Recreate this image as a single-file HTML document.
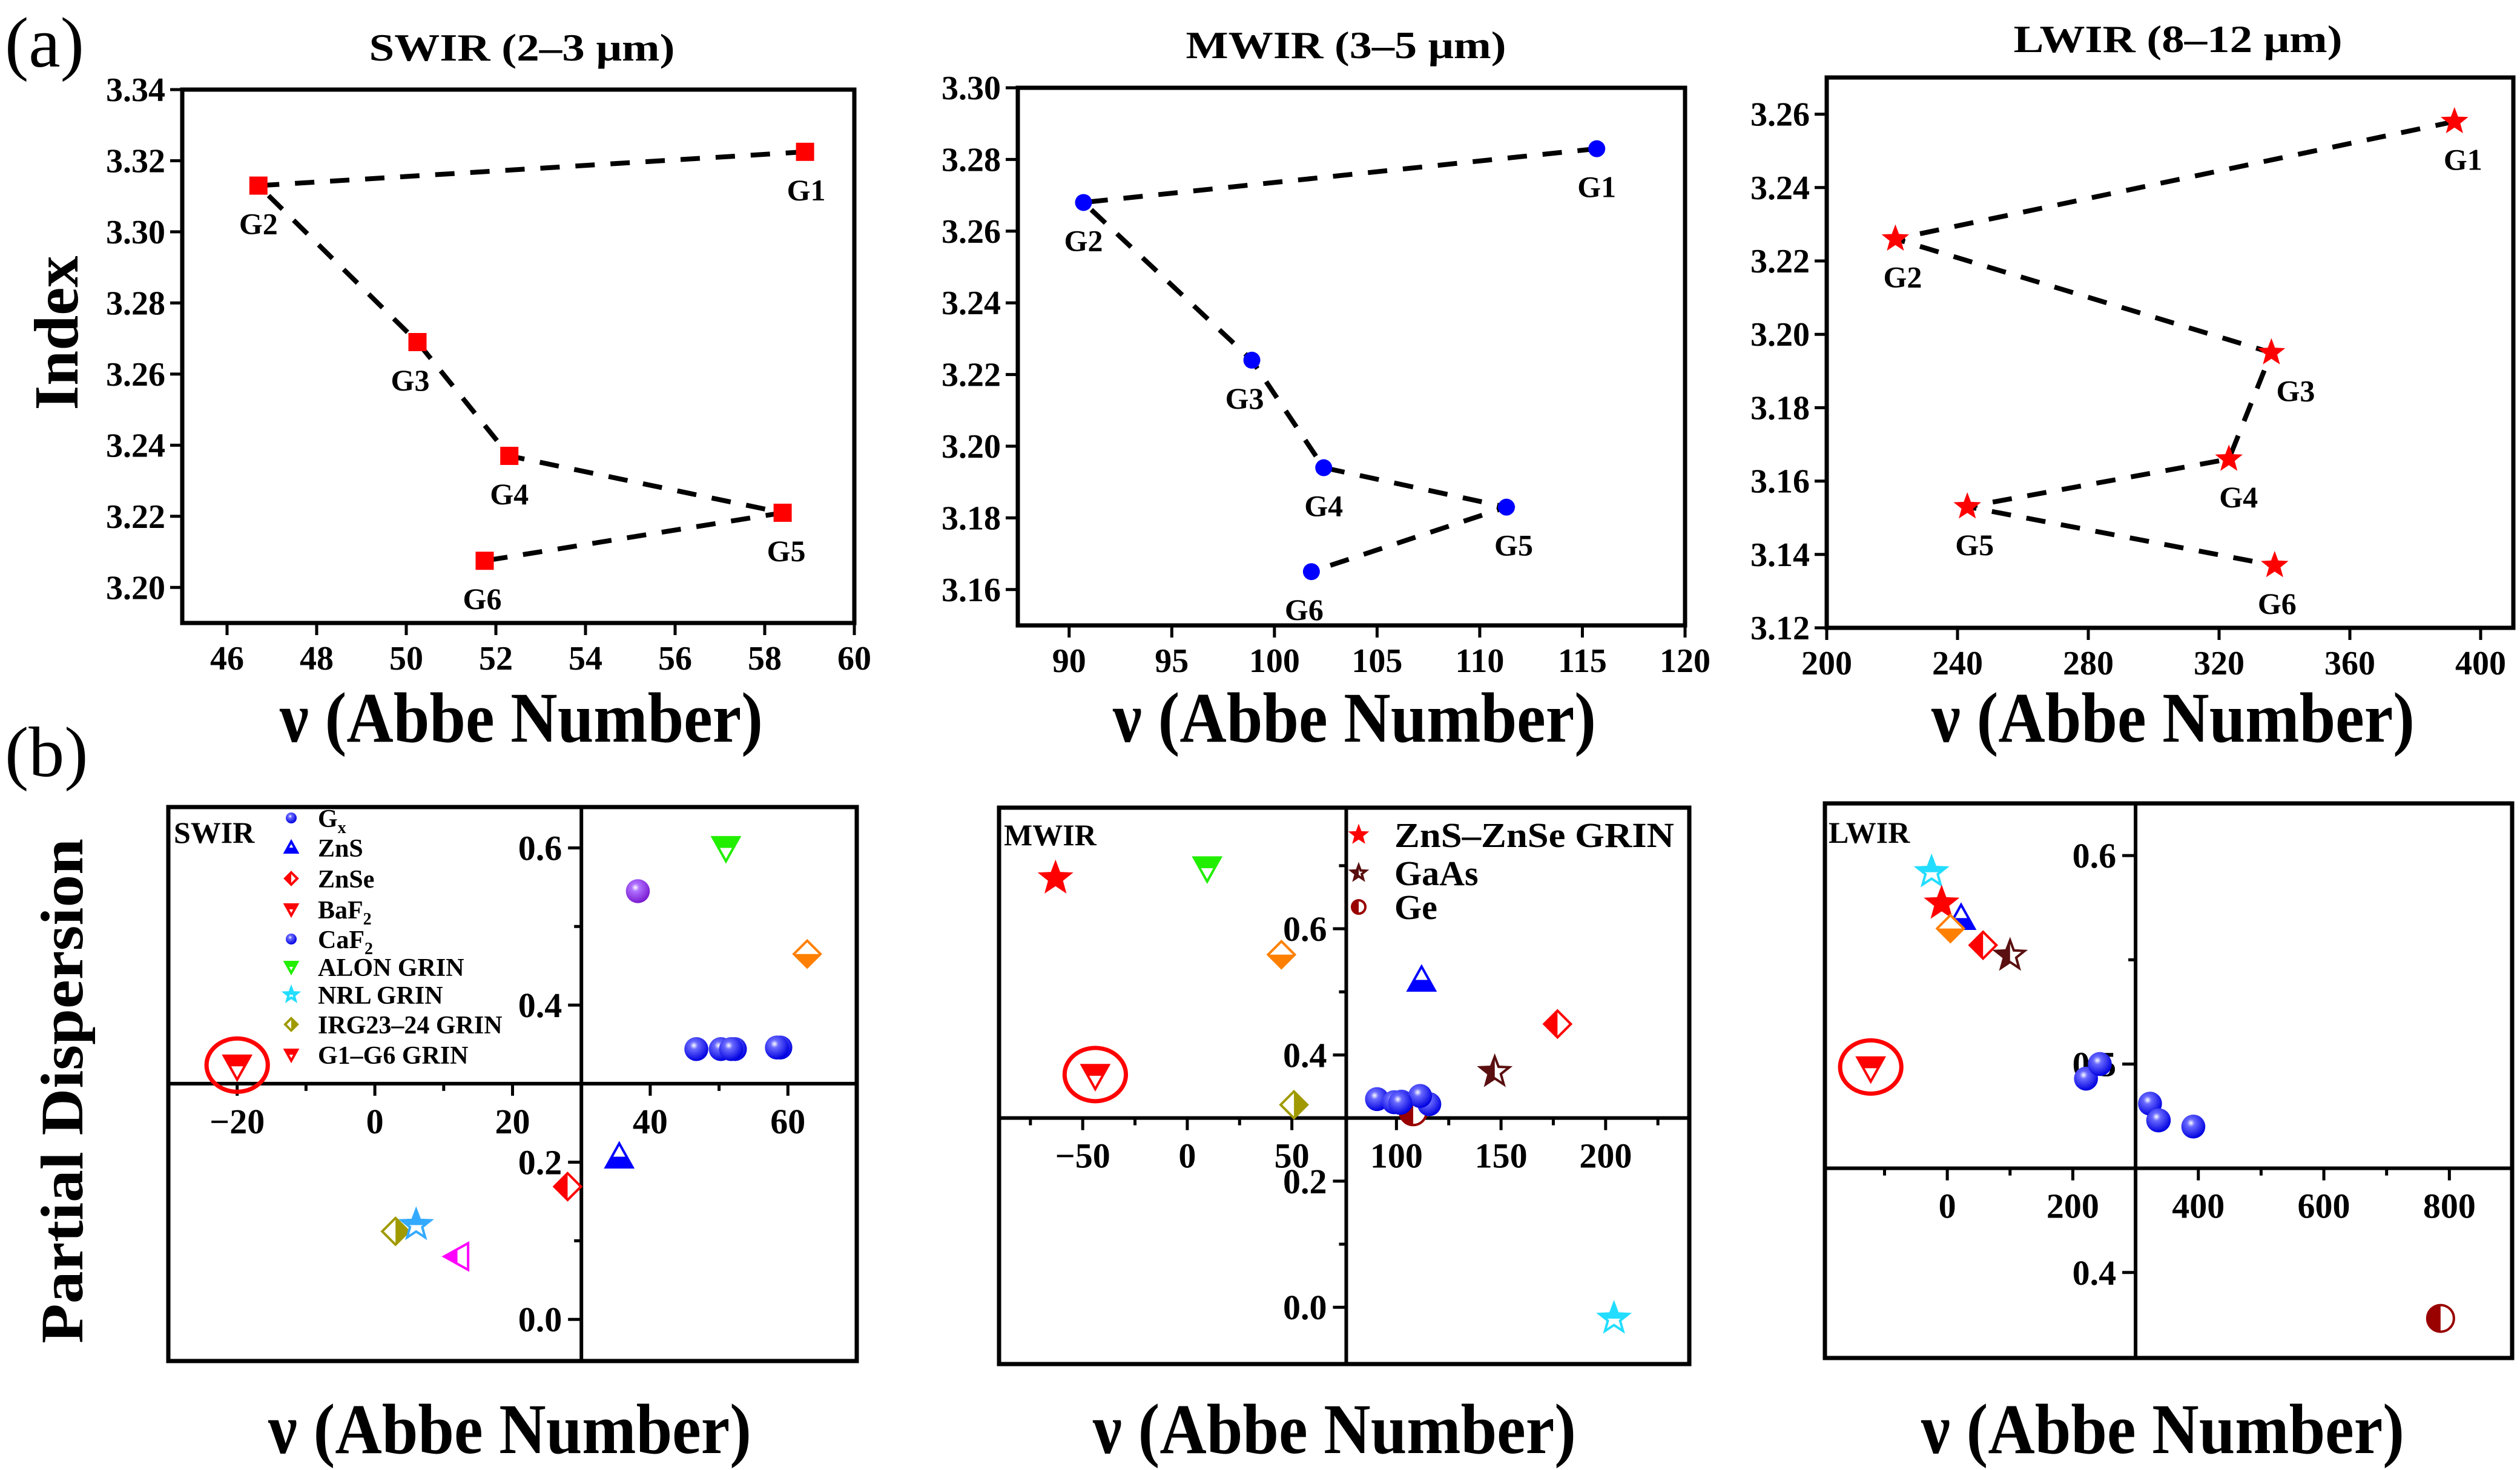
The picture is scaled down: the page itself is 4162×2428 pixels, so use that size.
<!DOCTYPE html>
<html><head><meta charset="utf-8"><style>
html,body{margin:0;padding:0;background:#fff;}
svg{display:block;font-family:"Liberation Serif","Times New Roman",serif;font-weight:bold;}
svg text, svg tspan{font-family:"Liberation Serif","Times New Roman",serif;}
</style></head><body>
<svg id="chart" width="4162" height="2428" viewBox="0 0 4162 2428" xmlns="http://www.w3.org/2000/svg">
<defs>
<radialGradient id="gBlue" cx="0.4" cy="0.35" r="0.65"><stop offset="0" stop-color="#ffffff"/><stop offset="0.25" stop-color="#6a6aff"/><stop offset="1" stop-color="#0000e0"/></radialGradient>
<radialGradient id="gPurple" cx="0.4" cy="0.35" r="0.65"><stop offset="0" stop-color="#ffffff"/><stop offset="0.25" stop-color="#b070ff"/><stop offset="1" stop-color="#7a1ad0"/></radialGradient>
</defs>
<text x="8" y="110" font-size="118" font-weight="normal">(a)</text>
<text x="8" y="1282" font-size="118" font-weight="normal">(b)</text>
<text transform="translate(128,550) rotate(-90)" text-anchor="middle" font-size="104" textLength="255" lengthAdjust="spacingAndGlyphs">Index</text>
<text transform="translate(136,1802) rotate(-90)" text-anchor="middle" font-size="100" textLength="834" lengthAdjust="spacingAndGlyphs">Partial Dispersion</text>
<text x="862" y="100" text-anchor="middle" font-size="64" textLength="505" lengthAdjust="spacingAndGlyphs">SWIR (2–3 μm)</text>
<text x="2223" y="96" text-anchor="middle" font-size="64" textLength="529" lengthAdjust="spacingAndGlyphs">MWIR (3–5 μm)</text>
<text x="3597" y="86" text-anchor="middle" font-size="64" textLength="543" lengthAdjust="spacingAndGlyphs">LWIR (8–12 μm)</text>
</svg>
<script>
// ---------- data ----------
const glassLabels = ['G1','G2','G3','G4','G5','G6'];
const swirAbbe = [58.9, 46.7, 50.25, 52.3, 58.4, 51.75];
const swirIndex = [3.3225, 3.313, 3.269, 3.237, 3.221, 3.2075];
const mwirAbbe = [115.7, 90.7, 98.9, 102.4, 111.3, 101.8];
const mwirIndex = [3.283, 3.268, 3.224, 3.194, 3.183, 3.165];
const lwirAbbe = [392, 221, 336, 323, 243, 337];
const lwirIndex = [3.258, 3.226, 3.195, 3.166, 3.153, 3.137];

const swirXTicks = [46,48,50,52,54,56,58,60];
const swirYTicks = [3.20,3.22,3.24,3.26,3.28,3.30,3.32,3.34];
const mwirXTicks = [90,95,100,105,110,115,120];
const mwirYTicks = [3.16,3.18,3.20,3.22,3.24,3.26,3.28,3.30];
const lwirXTicks = [200,240,280,320,360,400];
const lwirYTicks = [3.12,3.14,3.16,3.18,3.20,3.22,3.24,3.26];

const swirGxPd = [0.346, 0.344, 0.344, 0.344, 0.346, 0.344];
const mwirGxPd = [0.322, 0.330, 0.325, 0.326, 0.335, 0.324];
const lwirGxPd = [0.470, 0.493, 0.473, 0.481, 0.500, 0.473];

const swirMatKind = ['caf2','alon','baf2','zns','znse','irg','nrl','magenta','g16'];
const swirMatAbbe = [38.2, 51, 62.8, 35.5, 28, 3, 6, 12, -20];
const swirMatPd   = [0.545, 0.600, 0.465, 0.207, 0.169, 0.112, 0.120, 0.080, 0.322];
const mwirMatKind = ['znszse','alon','baf2','zns','znse','gaas','irg','g16','ge','nrlc'];
const mwirMatAbbe = [-63, 9.5, 45, 112, 177, 147, 51, -44, 108, 204];
const mwirMatPd   = [0.680, 0.696, 0.559, 0.519, 0.449, 0.373, 0.321, 0.367, 0.310, -0.018];
const lwirMatKind = ['nrlc','znszse','zns','baf2','znse','gaas','g16','ge'];
const lwirMatAbbe = [-25, -9, 22, 5, 57, 100, -122, 786];
const lwirMatPd   = [0.592, 0.577, 0.570, 0.565, 0.557, 0.552, 0.498, 0.378];

const swirPdXTicks = [-20,0,20,40,60];
const swirPdXMinor = [-10,10,50];
const swirPdYTicks = [0.0,0.2,0.4,0.6];
const swirPdYMinor = [0.1,0.5];
const mwirPdXTicks = [-50,0,50,100,150,200];
const mwirPdXMinor = [-75,-25,25,125,175,225];
const mwirPdYTicks = [0.0,0.2,0.4,0.6];
const mwirPdYMinor = [0.1,0.5,0.7];
const lwirPdXTicks = [0,200,400,600,800];
const lwirPdXMinor = [-100,100,500,700];
const lwirPdYTicks = [0.4,0.5,0.6];
const lwirPdYMinor = [0.55];

// ---------- helpers ----------
const NS = 'http://www.w3.org/2000/svg';
const svg = document.getElementById('chart');
const SERIF = '"Liberation Serif", "Times New Roman", serif';
let clipId = 0;
function el(tag, attrs, parent) {
  const e = document.createElementNS(NS, tag);
  for (const k in attrs) e.setAttribute(k, attrs[k]);
  if (tag === 'text') { e.setAttribute('font-family', SERIF); e.setAttribute('font-weight', 'bold'); }
  (parent || svg).appendChild(e);
  return e;
}
function lin(d0, d1, r0, r1) { return v => r0 + (v - d0) / (d1 - d0) * (r1 - r0); }
function fmt(v, dec) { return v.toFixed(dec).replace('-', '−'); }

function starPts(cx, cy, R) {
  const r = R * 0.42, p = [];
  for (let i = 0; i < 10; i++) {
    const a = -Math.PI / 2 + i * Math.PI / 5, rr = i % 2 ? r : R;
    p.push((cx + rr * Math.cos(a)).toFixed(1) + ',' + (cy + rr * Math.sin(a)).toFixed(1));
  }
  return p.join(' ');
}
function shapePts(shape, cx, cy, s) {
  if (shape === 'diamond') return `${cx},${cy-s} ${cx+s},${cy} ${cx},${cy+s} ${cx-s},${cy}`;
  if (shape === 'up') return `${cx},${cy-s} ${cx+s},${cy+s*0.8} ${cx-s},${cy+s*0.8}`;
  if (shape === 'down') return `${cx-s},${cy-s*0.8} ${cx+s},${cy-s*0.8} ${cx},${cy+s}`;
  if (shape === 'left') return `${cx-s},${cy} ${cx+s*0.8},${cy-s} ${cx+s*0.8},${cy+s}`;
  if (shape === 'star') return starPts(cx, cy, s * 1.15);
  return '';
}
function halfMarker(g, shape, cx, cy, s, color, side) {
  const id = 'hc' + (clipId++);
  const cp = el('clipPath', {id: id}, g);
  let rx = cx - s * 1.3, ry = cy - s * 1.3, rw = s * 2.6, rh = s * 2.6;
  if (side === 'left') rw = s * 1.3;
  if (side === 'right') rx = cx;
  if (side === 'top') rh = s * 1.3;
  if (side === 'bottom') ry = cy;
  el('rect', {x: rx, y: ry, width: rw, height: rh}, cp);
  if (shape === 'circle') {
    el('circle', {cx: cx, cy: cy, r: s, fill: '#fff', stroke: color, 'stroke-width': 4}, g);
    el('circle', {cx: cx, cy: cy, r: s, fill: color, 'clip-path': `url(#${id})`}, g);
  } else {
    const pts = shapePts(shape, cx, cy, s);
    el('polygon', {points: pts, fill: '#fff', stroke: color, 'stroke-width': 4, 'stroke-linejoin': 'miter'}, g);
    el('polygon', {points: pts, fill: color, 'clip-path': `url(#${id})`}, g);
  }
}
const kindStyle = {
  caf2:    {shape: 'ball', grad: 'gPurple'},
  gx:      {shape: 'ball', grad: 'gBlue'},
  alon:    {shape: 'down', color: '#22ee00', side: 'top'},
  baf2:    {shape: 'diamond', color: '#ff8000', side: 'bottom'},
  zns:     {shape: 'up', color: '#0000ff', side: 'bottom'},
  znse:    {shape: 'diamond', color: '#ff0000', side: 'left'},
  irg:     {shape: 'diamond', color: '#a09a00', side: 'right'},
  nrl:     {shape: 'star', color: '#33aaff', side: 'top'},
  nrlc:    {shape: 'star', color: '#22ddff', side: 'top'},
  magenta: {shape: 'left', color: '#ff00ff', side: 'left'},
  g16:     {shape: 'down', color: '#ff0000', side: 'top'},
  znszse:  {shape: 'star', color: '#ff0000', side: 'full'},
  gaas:    {shape: 'star', color: '#5a0f10', side: 'left'},
  ge:      {shape: 'circle', color: '#990000', side: 'left'}
};
function drawKind(g, kind, cx, cy, s) {
  const st = kindStyle[kind];
  if (st.shape === 'ball') {
    el('circle', {cx: cx, cy: cy, r: s * 0.9, fill: `url(#${st.grad})`}, g);
  } else {
    halfMarker(g, st.shape, cx, cy, s, st.color, st.side);
  }
  if (kind === 'g16') {
    el('ellipse', {cx: cx, cy: cy - 2, rx: s * 2.3, ry: s * 2.0, fill: 'none', stroke: '#ff0000', 'stroke-width': 7}, g);
  }
}

// ---------- top panels ----------
function indexPanel(name, fr, xd, yd, xs, ys, xt, yt, marker, color, labelDx) {
  const g = el('g', {});
  
  
  const X = lin(xd[0], xd[1], fr.x0, fr.x1), Y = lin(yd[0], yd[1], fr.y1, fr.y0);
  const fb = el('rect', {x: fr.x0, y: fr.y0, width: fr.x1 - fr.x0, height: fr.y1 - fr.y0, fill: 'none', stroke: '#000', 'stroke-width': 7}, g);
  
  
  xt.forEach(v => {
    el('line', {x1: X(v), x2: X(v), y1: fr.y1, y2: fr.y1 + 20, stroke: '#000', 'stroke-width': 5}, g);
    const t = el('text', {x: X(v), y: fr.y1 + 77, 'text-anchor': 'middle', 'font-size': 56}, g);
    
    
    t.textContent = String(v);
  });
  yt.forEach(v => {
    el('line', {x1: fr.x0 - 20, x2: fr.x0, y1: Y(v), y2: Y(v), stroke: '#000', 'stroke-width': 5}, g);
    const t = el('text', {x: fr.x0 - 28, y: Y(v) + 19, 'text-anchor': 'end', 'font-size': 56}, g);
    
    
    t.textContent = v.toFixed(2);
  });
  const pts = xs.map((v, i) => X(v).toFixed(1) + ',' + Y(ys[i]).toFixed(1)).join(' ');
  const pl = el('polyline', {points: pts, fill: 'none', stroke: '#000', 'stroke-width': 8, 'stroke-dasharray': '32 26'}, g);
  
  
  xs.forEach((v, i) => {
    const cx = X(v), cy = Y(ys[i]);
    let m;
    if (marker === 'square') m = el('rect', {x: cx - 15, y: cy - 15, width: 30, height: 30, fill: color}, g);
    else if (marker === 'circle') m = el('circle', {cx: cx, cy: cy, r: 14, fill: color}, g);
    else m = el('polygon', {points: starPts(cx, cy, 24), fill: color}, g);
    
    
    const t = el('text', {x: cx + labelDx[i], y: cy + 80, 'text-anchor': 'middle', 'font-size': 50}, g);
    
    
    t.textContent = glassLabels[i];
  });
  const xl = el('text', {x: (fr.x0 + fr.x1) / 2 + 5, y: 1225, 'text-anchor': 'middle', 'font-size': 118, textLength: 798, lengthAdjust: 'spacingAndGlyphs'}, g);
  
  
  xl.textContent = 'ν (Abbe Number)';
}
indexPanel('swir', {x0: 301, x1: 1411, y0: 148, y1: 1029}, [45, 60], [3.19, 3.34], swirAbbe, swirIndex, swirXTicks, swirYTicks, 'square', '#ff0000', [2, 0, -12, 0, 6, -4]);
indexPanel('mwir', {x0: 1681, x1: 2783, y0: 145, y1: 1033}, [87.5, 120], [3.15, 3.30], mwirAbbe, mwirIndex, mwirXTicks, mwirYTicks, 'circle', '#0000ff', [0, 0, -12, 0, 12, -12]);
indexPanel('lwir', {x0: 3017, x1: 4151, y0: 128, y1: 1037}, [200, 410], [3.12, 3.27], lwirAbbe, lwirIndex, lwirXTicks, lwirYTicks, 'star', '#ff0000', [14, 12, 40, 16, 12, 4]);

// ---------- bottom panels ----------
function pdPanel(name, fr, xd, yd, cross, xt, xm, yt, ym, gxAbbe, gxPd, kinds, mx, my, xlCenter) {
  const g = el('g', {});
  
  
  const X = lin(xd[0], xd[1], fr.x0, fr.x1), Y = lin(yd[0], yd[1], fr.y1, fr.y0);
  const fb = el('rect', {x: fr.x0, y: fr.y0, width: fr.x1 - fr.x0, height: fr.y1 - fr.y0, fill: 'none', stroke: '#000', 'stroke-width': 7}, g);
  
  
  const ax = X(cross[0]), ay = Y(cross[1]);
  const va = el('line', {x1: ax, x2: ax, y1: fr.y0, y2: fr.y1, stroke: '#000', 'stroke-width': 6}, g);
  
  
  const ha = el('line', {x1: fr.x0, x2: fr.x1, y1: ay, y2: ay, stroke: '#000', 'stroke-width': 6}, g);
  
  
  xt.forEach(v => {
    el('line', {x1: X(v), x2: X(v), y1: ay, y2: ay + 20, stroke: '#000', 'stroke-width': 5}, g);
    const t = el('text', {x: X(v), y: ay + 82, 'text-anchor': 'middle', 'font-size': 58}, g);
    
    
    t.textContent = fmt(v, 0);
  });
  xm.forEach(v => el('line', {x1: X(v), x2: X(v), y1: ay, y2: ay + 12, stroke: '#000', 'stroke-width': 5}, g));
  yt.forEach(v => {
    el('line', {x1: ax - 22, x2: ax, y1: Y(v), y2: Y(v), stroke: '#000', 'stroke-width': 5}, g);
    const t = el('text', {x: ax - 32, y: Y(v) + 20, 'text-anchor': 'end', 'font-size': 58}, g);
    
    
    t.textContent = v.toFixed(1);
  });
  ym.forEach(v => el('line', {x1: ax - 12, x2: ax, y1: Y(v), y2: Y(v), stroke: '#000', 'stroke-width': 5}, g));
  kinds.forEach((k, i) => {
    const mg = el('g', {}, g);
    
    
    drawKind(mg, k, X(mx[i]), Y(my[i]), 22);
  });
  gxAbbe.forEach((v, i) => {
    const mg = el('g', {}, g);
    
    
    drawKind(mg, 'gx', X(v), Y(gxPd[i]), 22);
  });
  const xl = el('text', {x: xlCenter, y: 2400, 'text-anchor': 'middle', 'font-size': 118, textLength: 798, lengthAdjust: 'spacingAndGlyphs'}, g);
  
  
  xl.textContent = 'ν (Abbe Number)';
  return g;
}
pdPanel('swir', {x0: 278, x1: 1415, y0: 1333, y1: 2248}, [-30, 70], [-0.053, 0.652], [30, 0.3], swirPdXTicks, swirPdXMinor, swirPdYTicks, swirPdYMinor, swirAbbe, swirGxPd, swirMatKind, swirMatAbbe, swirMatPd, 842);
pdPanel('mwir', {x0: 1650, x1: 2790, y0: 1334, y1: 2253}, [-90, 240], [-0.09, 0.792], [76, 0.3], mwirPdXTicks, mwirPdXMinor, mwirPdYTicks, mwirPdYMinor, mwirAbbe, mwirGxPd, mwirMatKind, mwirMatAbbe, mwirMatPd, 2204);
pdPanel('lwir', {x0: 3014, x1: 4149, y0: 1327, y1: 2243}, [-195, 900], [0.359, 0.625], [300, 0.45], lwirPdXTicks, lwirPdXMinor, lwirPdYTicks, lwirPdYMinor, lwirAbbe, lwirGxPd, lwirMatKind, lwirMatAbbe, lwirMatPd, 3572);

const tagSW = el('text', {x: 287, y: 1392, 'font-size': 50});


tagSW.textContent = 'SWIR';
const tagMW = el('text', {x: 1658, y: 1396, 'font-size': 50});


tagMW.textContent = 'MWIR';
const tagLW = el('text', {x: 3020, y: 1392, 'font-size': 50});


tagLW.textContent = 'LWIR';

const legKinds = ['gx','zns','znse','g16l','gx','alon','nrlc','irg','g16l'];
const legText = [['G','x'],['ZnS',''],['ZnSe',''],['BaF','2'],['CaF','2'],['ALON GRIN',''],['NRL GRIN',''],['IRG23–24 GRIN',''],['G1–G6 GRIN','']];
const legRows = [1351,1400,1451,1502,1551,1597,1643,1692,1742];
legText.forEach((tx, i) => {
  const lg = el('g', {});
  
  
  const k = legKinds[i] === 'g16l' ? null : legKinds[i];
  if (k) drawKind(lg, k, 481, legRows[i], 10);
  else halfMarker(lg, 'down', 481, legRows[i], 10, '#ff0000', 'top');
  const t = el('text', {x: 525, y: legRows[i] + 15, 'font-size': 42}, lg);
  t.textContent = tx[0];
  if (tx[1]) { const s = el('tspan', {'font-size': 28, dy: 10}, t); s.textContent = tx[1]; }
});
const mlegKinds = ['znszse','gaas','ge'];
const mlegText = ['ZnS–ZnSe GRIN','GaAs','Ge'];
const mlegRows = [1379,1442,1498];
mlegText.forEach((tx, i) => {
  const lg = el('g', {});
  
  
  drawKind(lg, mlegKinds[i], 2244, mlegRows[i], 11);
  const t = el('text', {x: 2303, y: mlegRows[i] + 20, 'font-size': 58}, lg);
  if (i === 0) { t.setAttribute('textLength', 462); t.setAttribute('lengthAdjust', 'spacingAndGlyphs'); }
  t.textContent = tx;
});
</script>
</body></html>
